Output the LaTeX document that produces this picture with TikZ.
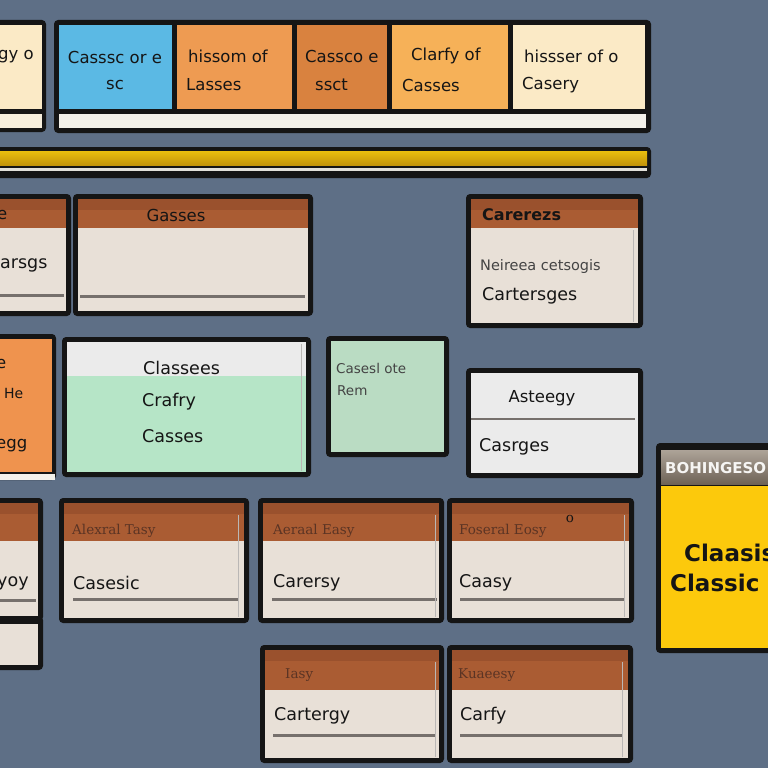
\documentclass[tikz,border=0pt]{standalone}
\usepackage{fontspec}
\setmainfont{DejaVu Sans}
\newfontfamily\thinserif{DejaVu Serif}
\definecolor{bg}{HTML}{5E6F86}
\definecolor{ink}{HTML}{151515}
\definecolor{cream}{HTML}{FBEAC6}
\definecolor{sky}{HTML}{5BB9E4}
\definecolor{orangeA}{HTML}{EE9B52}
\definecolor{orangeB}{HTML}{D9823F}
\definecolor{orangeC}{HTML}{F6B158}
\definecolor{strip}{HTML}{F3F1EA}
\definecolor{gold}{HTML}{E3AE12}
\definecolor{golddark}{HTML}{C3940A}
\definecolor{brown}{HTML}{AA5C33}
\definecolor{browndark}{HTML}{9A512D}
\definecolor{beige}{HTML}{E8E0D7}
\definecolor{rulegray}{HTML}{76706C}
\definecolor{mint}{HTML}{B6E5C7}
\definecolor{mintb}{HTML}{BADCC3}
\definecolor{pale}{HTML}{EBEBEB}
\definecolor{yellowc}{HTML}{FCC90C}
\definecolor{tan}{HTML}{8A7C6C}
\definecolor{hdrtext}{HTML}{5B3424}
% card: name, inner x1, y1, x2, y2, header bottom
\newcommand\panelcard[6]{%
  \fill[ink,rounded corners=4pt] ({#2-5},{#3-5}) rectangle ({#4+5},{#5+5});
  \fill[beige] (#2,#3) rectangle (#4,#5);
  \fill[brown] (#2,#3) rectangle (#4,#6);
  \fill[browndark] (#2,#3) rectangle (#4,{#3+11});
  \coordinate (#1) at (#2,#3);}
\begin{document}
\begin{tikzpicture}[x=1pt,y=-1pt,
  lbl/.style={inner sep=0pt, anchor=west, text=ink, font=\fontsize{16.5}{20}\selectfont},
  big/.style={lbl, font=\fontsize{17.5}{21}\selectfont},
  small/.style={inner sep=0pt, anchor=west, text=hdrtext, font=\thinserif\fontsize{13.5}{15}\selectfont},
  note/.style={inner sep=0pt, anchor=west, text=ink!80, font=\fontsize{14.5}{16}\selectfont},
  rulel/.style={draw=rulegray, line width=3pt},
  vline/.style={draw=rulegray!50, line width=0.8pt}]
\useasboundingbox (0,0) rectangle (768,768);
\clip (0,0) rectangle (768,768);
\fill[bg] (0,0) rectangle (768,768);

% ---- top strip of tabs ----
\fill[ink,rounded corners=4pt] (-10,20) rectangle (46,132);
\fill[cream] (-10,25) rectangle (42,109);
\fill[strip!60!cream] (-10,114) rectangle (42,128);
\node[lbl] (t0) at (-2,57) {gy o};

\fill[ink,rounded corners=4pt] (54,20) rectangle (651,133);
\fill[sky] (59,25) rectangle (172,109);
\fill[orangeA] (177,25) rectangle (292,109);
\fill[orangeB] (297,25) rectangle (387,109);
\fill[orangeC] (392,25) rectangle (508,109);
\fill[cream] (513,25) rectangle (645,109);
\fill[strip] (59,114) rectangle (646,128);
\node[lbl,anchor=center] (t1a) at (115,57) {Casssc or e};
\node[lbl,anchor=center] (t1b) at (115,85) {sc};
\node[lbl] (t2a) at (188,56) {hissom of};
\node[lbl] (t2b) at (186,85) {Lasses};
\begin{scope}
\clip (297,25) rectangle (387,109);
\node[lbl] (t3a) at (305,56) {Cassco e};
\end{scope}
\node[lbl] (t3b) at (315,85) {ssct};
\node[lbl] (t4a) at (411,56) {Clarfy of};
\node[lbl] (t4b) at (402,85) {Casses};
\node[lbl] (t5a) at (524,56) {hissser of o};
\node[lbl] (t5b) at (522,85) {Casery};

% ---- yellow rail ----
\fill[ink,rounded corners=4pt] (-10,147) rectangle (651,178);
\shade[top color=gold!80!yellow, bottom color=golddark] (-10,151) rectangle (647,165);
\fill[strip!85!gray] (-10,168) rectangle (647,171);

% ---- second row ----
\panelcard{c1}{-10}{199}{66}{311}{228}
\node[lbl] (c1h) at (-3,215) {e};
\node[big] (c1b) at (0,265) {arsgs};
\draw[rulel] (-10,295) -- (64,295);

\panelcard{c2}{78}{199}{308}{311}{228}
\node[lbl,anchor=center] (c2h) at (176,215) {Gasses};
\draw[rulel] (80,296) -- (305,296);

\panelcard{c3}{471}{199}{638}{323}{228}
\node[lbl,font=\bfseries\fontsize{16}{20}\selectfont] (c3h) at (482,215) {Carerezs};
\node[note] (c3a) at (480,266) {Neireea cetsogis};
\node[big] (c3b) at (482,296) {Cartersges};
\draw[vline] (633,230) -- (633,322);

% ---- third row ----
\fill[ink,rounded corners=4pt] (-10,334) rectangle (56,480);
\fill[orangeA!95!red] (-10,339) rectangle (52,472);
\fill[strip] (-10,474) rectangle (55,480);
\node[lbl] (o1) at (-4,364) {e};
\node[lbl,font=\fontsize{14}{16}\selectfont] (o2) at (4,393) {He};
\node[lbl] (o3) at (-4,446) {egg};

\fill[ink,rounded corners=4pt] (62,337) rectangle (311,477);
\fill[pale] (67,342) rectangle (306,376);
\fill[mint] (67,376) rectangle (306,472);
\node[big] (g1) at (143,368) {Classees};
\node[big] (g2) at (142,402) {Crafry};
\node[big] (g3) at (142,436) {Casses};
\draw[vline] (301,344) -- (301,471);

\fill[ink,rounded corners=4pt] (326,336) rectangle (449,457);
\fill[mintb] (331,341) rectangle (444,452);
\node[note,font=\fontsize{13.5}{15}\selectfont] (s1) at (336,368) {Casesl ote};
\node[note,font=\fontsize{13.5}{15}\selectfont] (s2) at (337,391) {Rem};

\fill[ink,rounded corners=4pt] (466,368) rectangle (643,478);
\fill[pale] (471,373) rectangle (638,473);
\node[lbl,anchor=center] (a1) at (542,398) {Asteegy};
\draw[draw=rulegray, line width=2pt] (471,419) -- (635,419);
\node[big] (a2) at (479,447) {Casrges};

% ---- fourth row ----
\panelcard{d0}{-10}{503}{38}{616}{541}
\node[big] (d0b) at (-3,583) {yoy};
\draw[rulel] (-10,600) -- (36,600);
\fill[ink,rounded corners=4pt] (-10,616) rectangle (43,670);
\fill[beige] (-10,624) rectangle (38,665);

\panelcard{d1}{64}{503}{244}{618}{541}
\node[small] (d1h) at (72,531) {Alexral Tasy};
\node[big] (d1b) at (73,583) {Casesic};
\draw[rulel] (73,599) -- (238,599);
\draw[vline] (238,515) -- (238,617);

\panelcard{d2}{263}{503}{439}{618}{541}
\node[small] (d2h) at (273,531) {Aeraal Easy};
\node[big] (d2b) at (273,583) {Carersy};
\draw[rulel] (272,599) -- (437,599);
\draw[vline] (435,515) -- (435,617);

\panelcard{d3}{452}{503}{629}{618}{541}
\node[small] (d3h) at (459,531) {Foseral Eosy};
\node[small,anchor=center,text=ink] (d3o) at (570,519) {o};
\node[big] (d3b) at (459,583) {Caasy};
\draw[rulel] (460,599) -- (624,599);
\draw[vline] (624,515) -- (624,617);

% ---- yellow card at right ----
\fill[ink,rounded corners=4pt] (656,443) rectangle (780,653);
\shade[top color=tan!70!white, bottom color=tan!80!black] (661,450) rectangle (780,484);
\fill[yellowc] (661,486) rectangle (780,648);
\node[inner sep=0pt,anchor=west,text=white!92!tan,font=\bfseries\fontsize{15}{17}\selectfont] (yh) at (665,468) {BOHINGESO};
\node[inner sep=0pt,anchor=west,text=ink,font=\bfseries\fontsize{23}{28}\selectfont] (y1) at (684,553) {Claasis};
\node[inner sep=0pt,anchor=west,text=ink,font=\bfseries\fontsize{23}{28}\selectfont] (y2) at (670,583) {Classic};

% ---- fifth row ----
\panelcard{e1}{265}{650}{439}{758}{690}
\node[small] (e1h) at (285,675) {Iasy};
\node[big] (e1b) at (274,716) {Cartergy};
\draw[rulel] (273,735) -- (435,735);
\draw[vline] (435,662) -- (435,757);

\panelcard{e2}{452}{650}{628}{758}{690}
\node[small] (e2h) at (458,675) {Kuaeesy};
\node[big] (e2b) at (460,716) {Carfy};
\draw[rulel] (460,735) -- (622,735);
\draw[vline] (622,662) -- (622,757);
\end{tikzpicture}
\end{document}
